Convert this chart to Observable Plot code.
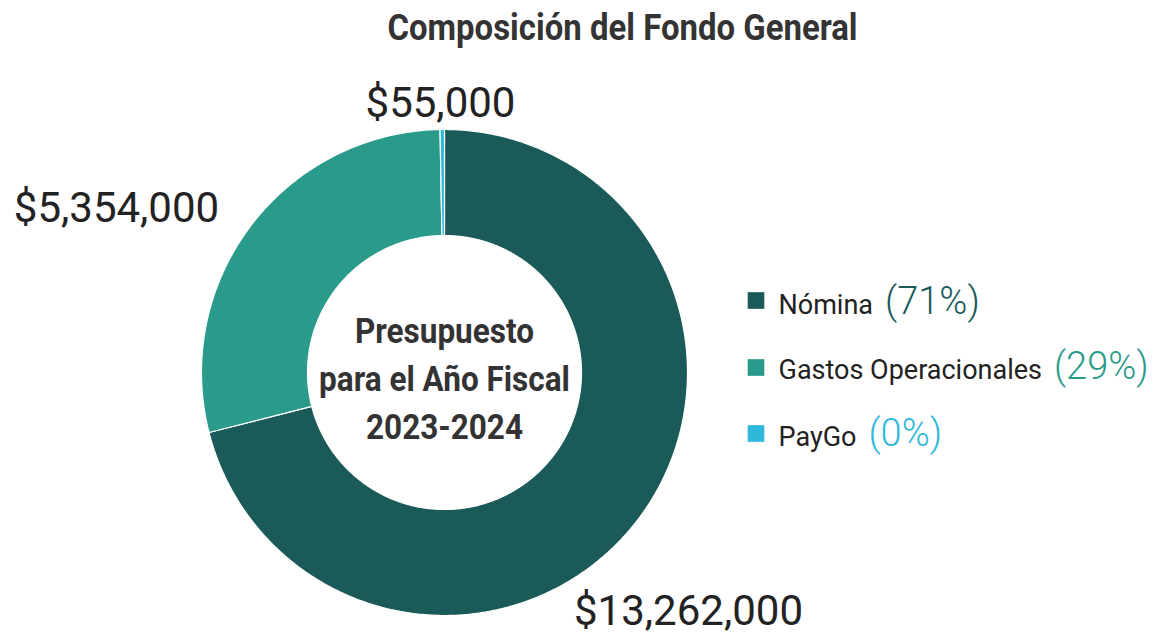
<!DOCTYPE html>
<html>
<head>
<meta charset="utf-8">
<script src="https://cdn.jsdelivr.net/npm/d3@7"></script>
<script src="https://cdn.jsdelivr.net/npm/@observablehq/plot@0.6"></script>
<style>
  html, body { margin: 0; padding: 0; background: #ffffff; }
  svg { display: block; }
</style>
</head>
<body>
<div id="chart"></div>
<script>
// ---- data ----
const titleText = "Composición del Fondo General";
const categories = ["Nómina", "Gastos Operacionales", "PayGo"];
const amounts = [13262000, 5354000, 55000];
const amountLabels = ["$13,262,000", "$5,354,000", "$55,000"];
const centerLines = ["Presupuesto", "para el Año Fiscal", "2023-2024"];

// ---- style / layout ----
const colors = ["#1a5b5a", "#2a9b8a", "#2fb8dc"];
const W = 1162, H = 635;
const cx = 444, cy = 372;          // donut centre in page pixels
const R = 243, R0 = 137;           // outer / inner radius
const boldFont = "Roboto, 'Noto Sans', sans-serif";
const plain = "Roboto, 'Noto Sans', sans-serif";
const titleCondense = 0.89, centerCondense = 0.9;   // horizontal squeeze for condensed bold headings
const titleSize = 37, centerSize = 35, valueSize = 42, legendSize = 27, pctSize = 38;
// value label anchors (offset from centre, baseline)
const valuePos = [[244, 252], [-328, -151], [-4, -256]];
const titlePos = [178, -333];
const centerBaselines = [-30, 18, 66];
const legendSquareX = 311.5;
const legendSquareY = [-72, -5, 61];
const legendLabelX = 334;
const legendBaseline = [-59, 6, 73];
const legendGap = 12;

// text measuring (installed fonts)
const ctx = document.createElement("canvas").getContext("2d");
function measure(text, size, weight, family) {
  ctx.font = `${weight} ${size}px ${family}`;
  return ctx.measureText(text).width;
}

const total = d3.sum(amounts);
const rows = categories.map((c, i) => ({
  name: c, value: amounts[i], color: colors[i], label: amountLabels[i],
  pct: "(" + Math.round(amounts[i] / total * 100) + "%)"
}));

const arcs = d3.pie().sort(null).value(d => d.value)(rows);
function slicePoints(a) {
  const pts = [];
  const n = Math.max(2, Math.ceil((a.endAngle - a.startAngle) / (Math.PI / 360)));
  for (let k = 0; k <= n; k++) {
    const t = a.startAngle + (a.endAngle - a.startAngle) * k / n;
    pts.push({x: R * Math.sin(t), y: -R * Math.cos(t)});
  }
  for (let k = n; k >= 0; k--) {
    const t = a.startAngle + (a.endAngle - a.startAngle) * k / n;
    pts.push({x: R0 * Math.sin(t), y: -R0 * Math.cos(t)});
  }
  return pts;
}

const sliceMarks = arcs.map(a => Plot.line(slicePoints(a), {
  x: "x", y: "y", fill: a.data.color, stroke: "#ffffff", strokeWidth: 1.2, curve: "linear-closed"
}));

const valueRows = rows.map((r, i) => ({text: r.label, x: valuePos[i][0], y: valuePos[i][1]}));
const centerRows = centerLines.map((t, i) => ({text: t, x: 0, y: centerBaselines[i]}));
const legendRows = rows.map((r, i) => ({
  name: r.name, pct: r.pct, color: r.color,
  sx: legendSquareX, sy: legendSquareY[i], lx: legendLabelX, ly: legendBaseline[i],
  px: legendLabelX + measure(r.name, legendSize, 400, plain) + legendGap
}));

const chart = Plot.plot({
  width: W, height: H, margin: 0,
  x: {domain: [-cx, W - cx], range: [0, W], axis: null},
  y: {domain: [-cy, H - cy], range: [0, H], axis: null},
  style: {background: "#ffffff", overflow: "visible"},
  marks: [
    ...sliceMarks,
    Plot.text([{text: titleText, x: titlePos[0], y: titlePos[1]}], {
      x: "x", y: "y", text: "text", lineAnchor: "bottom", textAnchor: "middle",
      fontFamily: boldFont, fontWeight: "bold", fontSize: titleSize, fill: "#333333"
    }),
    Plot.text(valueRows, {
      x: "x", y: "y", text: "text", lineAnchor: "bottom", textAnchor: "middle",
      fontFamily: plain, fontSize: valueSize, fill: "#222222"
    }),
    Plot.text(centerRows, {
      x: "x", y: "y", text: "text", lineAnchor: "bottom", textAnchor: "middle",
      fontFamily: boldFont, fontWeight: "bold", fontSize: centerSize, fill: "#333333"
    }),
    Plot.dot(legendRows, {
      x: "sx", y: "sy", symbol: "square", r: 9.4, fill: d => d.color, stroke: "none"
    }),
    Plot.text(legendRows, {
      x: "lx", y: "ly", text: "name", lineAnchor: "bottom", textAnchor: "start",
      fontFamily: plain, fontSize: legendSize, fill: "#222222"
    }),
    Plot.text(legendRows, {
      x: "px", y: "ly", text: "pct", lineAnchor: "bottom", textAnchor: "start",
      fontFamily: plain, fontWeight: 300, fontSize: pctSize, fill: d => d.color
    })
  ],
  color: {type: "identity"}
});
document.getElementById("chart").appendChild(chart);

// condensed look for the bold headings
chart.querySelectorAll("text").forEach(el => {
  const t = el.textContent;
  let size = null, f = 1;
  if (t === titleText) { size = titleSize; f = titleCondense; }
  else if (centerLines.includes(t)) { size = centerSize; f = centerCondense; }
  if (size) {
    const w = measure(t, size, "bold", boldFont);
    el.setAttribute("textLength", (w * f).toFixed(1));
    el.setAttribute("lengthAdjust", "spacingAndGlyphs");
  }
});
</script>
</body>
</html>
